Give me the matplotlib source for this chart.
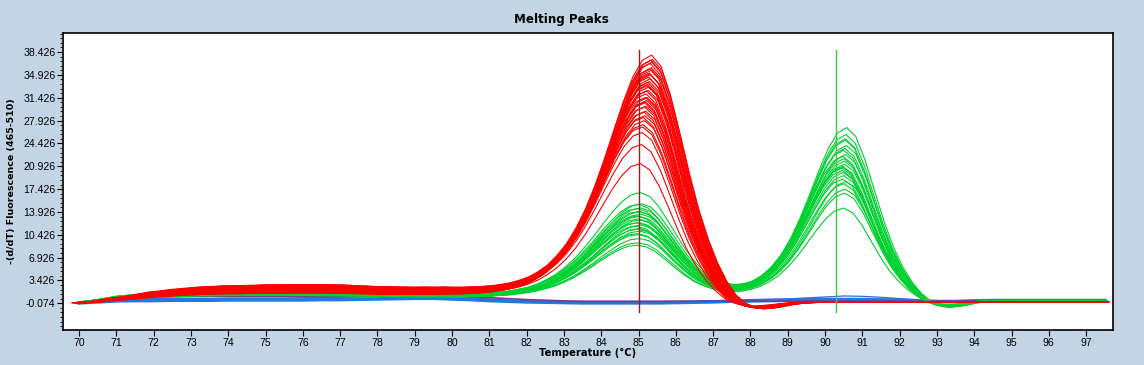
import numpy as np
import matplotlib
matplotlib.use("Agg")
import matplotlib.pyplot as plt
from matplotlib.ticker import FixedLocator, FormatStrFormatter

# ---------------- data ----------------
# common temperature grid (deg C), 0.25 step
temps = np.arange(70.0, 97.51, 0.25)

# red sample family: baseline and normalised peak shape (peak at 85.25)
red_base = [0.0, 0.1, 0.2, 0.4,
            0.6, 0.7, 0.9, 1.1,
            1.3, 1.4, 1.55, 1.65,
            1.75, 1.85, 1.9, 1.95,
            2.0, 2.0, 2.05, 2.05,
            2.1, 2.1, 2.1, 2.15,
            2.15, 2.15, 2.15, 2.1,
            2.1, 2.05, 2.0, 1.95,
            1.9, 1.9, 1.85, 1.85,
            1.8, 1.8, 1.75, 1.75,
            1.7, 1.65, 1.6, 1.55,
            1.5, 1.45, 1.4, 1.35,
            1.3, 1.25, 1.2, 1.15,
            1.1, 1.05, 1.0, 0.95,
            0.9, 0.85, 0.8, 0.75,
            0.7, 0.62, 0.55, 0.48,
            0.4, 0.35, 0.3, 0.25,
            0.2, 0.17, 0.15, 0.12] + [0.1] * 8 + [0.15] * 31

red_peak = [0.0] * 36 + [
    0.001, 0.002, 0.003, 0.004,
    0.005, 0.007, 0.010, 0.014,
    0.019, 0.026, 0.035, 0.048,
    0.064, 0.088, 0.118, 0.160,
    0.211, 0.277, 0.358, 0.456,
    0.568, 0.689, 0.806, 0.907,
    0.976, 1.000, 0.957, 0.842,
    0.689, 0.526, 0.379, 0.259,
    0.161, 0.085, 0.028, -0.005,
    -0.022, -0.027, -0.024, -0.018,
    -0.010, -0.005, -0.002, 0.0] + [0.0] * 31

red_heights = [37.2, 36.8, 36.5, 36.3, 35.9, 35.6, 35.2, 34.9, 34.7, 34.3,
               34.0, 33.6, 33.3, 33.1, 32.7, 32.4, 32.0, 31.8, 31.4, 31.0,
               30.7, 30.4, 30.0, 29.6, 29.3, 28.9, 28.4, 28.1, 27.7, 27.3,
               26.8, 26.2, 25.5, 23.6, 20.8, 34.4, 32.9, 30.2]
red_shifts = [0.10, 0.12, 0.08, 0.11, 0.06, 0.09, 0.05, 0.10, 0.03, 0.07,
              0.02, 0.06, 0.00, 0.04, -0.02, 0.03, -0.04, 0.01, -0.05, -0.02,
              -0.06, -0.03, -0.08, -0.05, -0.09, -0.06, -0.10, -0.08, -0.12, -0.09,
              -0.13, -0.14, -0.15, -0.17, -0.20, 0.05, -0.01, -0.07]
red_base_scale = [1.2, 0.8, 1.1, 0.9, 1.3, 0.7, 1.0, 1.25, 0.85, 1.05,
                  0.95, 1.15, 0.75, 1.3, 0.9, 1.1, 0.8, 1.2, 1.0, 0.7,
                  1.25, 0.95, 1.05, 0.85, 1.15, 0.75, 1.3, 0.9, 1.1, 1.0,
                  0.8, 1.2, 0.95, 1.05, 0.85, 1.1, 0.9, 1.0]

# green sample family: baseline and two normalised peaks (85.0 and 90.5)
green_base = [0.1, 0.25, 0.4, 0.6,
              0.8, 0.9, 1.0, 1.1,
              1.2, 1.3, 1.35, 1.4,
              1.45, 1.5, 1.5, 1.55,
              1.55, 1.6, 1.6, 1.6,
              1.6, 1.6, 1.6, 1.6,
              1.6, 1.55, 1.55, 1.5,
              1.5, 1.45, 1.45, 1.4,
              1.4, 1.35, 1.3, 1.3,
              1.25, 1.2, 1.15, 1.1,
              1.05, 1.0, 1.0, 0.95,
              0.9, 0.85, 0.8, 0.8,
              0.75, 0.7, 0.7, 0.65,
              0.65, 0.6, 0.6, 0.55,
              0.55, 0.5, 0.5, 0.5,
              0.45, 0.45, 0.45, 0.4,
              0.4, 0.4, 0.35, 0.35,
              0.3, 0.3, 0.3, 0.3,
              0.3, 0.3, 0.3, 0.3,
              0.3, 0.3, 0.3, 0.3,
              0.3, 0.3, 0.3, 0.3,
              0.3, 0.3, 0.3, 0.25,
              0.25, 0.25, 0.2, 0.2] + [0.2] * 4 + [0.3] * 15

green_peak1 = [0.0] * 32 + [
    0.0, 0.0005, 0.001, 0.0018,
    0.0025, 0.0035, 0.005, 0.007,
    0.009, 0.013, 0.017, 0.023,
    0.031, 0.042, 0.056, 0.075,
    0.100, 0.133, 0.177, 0.231,
    0.299, 0.382, 0.480, 0.590,
    0.706, 0.819, 0.913, 0.977,
    1.000,
    0.964, 0.865, 0.729, 0.582,
    0.445, 0.329, 0.238, 0.171,
    0.118, 0.082, 0.057, 0.039,
    0.027, 0.018, 0.0125, 0.0086,
    0.006, 0.004, 0.0028, 0.002,
    0.0013, 0.0009, 0.0006, 0.0] + [0.0] * 26

green_peak2 = [0.0] * 58 + [
    0.0005, 0.0008, 0.0012, 0.0017,
    0.0025, 0.0037, 0.0054, 0.0078,
    0.011, 0.016, 0.023, 0.033,
    0.0475, 0.0678, 0.0964, 0.137,
    0.192, 0.263, 0.358, 0.474,
    0.608, 0.748, 0.876, 0.967,
    1.000,
    0.947, 0.810, 0.634, 0.461,
    0.315, 0.201, 0.1135, 0.049,
    0.003, -0.023, -0.032, -0.027,
    -0.0185, -0.009, -0.003, -0.0006,
    0.0] + [0.0] * 11

green_h1 = [16.4, 14.8, 14.5, 14.1, 13.9, 13.6, 13.4, 13.1, 12.9, 12.7, 12.4, 12.2,
            11.9, 11.7, 11.5, 11.2, 11.0, 10.7, 10.5, 10.2, 9.9, 9.4, 8.7, 8.4]
green_h2 = [24.6, 26.6, 23.0, 25.5, 22.1, 24.9, 21.3, 23.8, 20.0, 23.3, 19.2, 22.4,
            20.7, 21.7, 18.3, 20.3, 21.0, 19.6, 17.1, 18.7, 17.9, 16.5, 14.2, 20.5]
green_shifts = [0.05, 0.08, 0.00, 0.06, -0.02, 0.04, 0.02, 0.07, -0.04, 0.03, 0.00, 0.05,
                -0.03, 0.01, 0.06, -0.05, 0.02, -0.01, 0.04, -0.03, 0.00, 0.03, 0.00, -0.02]
green_base_scale = [1.0, 0.8, 1.2, 0.9, 1.1, 0.7, 1.3, 1.0, 0.85, 1.15, 0.95, 1.05,
                    0.75, 1.25, 0.9, 1.1, 0.8, 1.2, 1.0, 0.85, 1.15, 0.95, 1.05, 0.9]

# negative controls (0.5 deg grid)
ctrl_temps = np.arange(70.0, 97.51, 0.5)
blue_main = [0.0, 0.15, 0.3, 0.35, 0.35, 0.4, 0.4, 0.4, 0.45, 0.45,
             0.45, 0.45, 0.45, 0.5, 0.5, 0.55, 0.6, 0.65, 0.7, 0.7,
             0.6, 0.5, 0.35, 0.25, 0.15, 0.1, 0.05, 0.0, 0.0, 0.0,
             0.0, 0.0, 0.05, 0.1, 0.15, 0.25, 0.3, 0.35, 0.4, 0.45,
             0.5, 0.5, 0.5, 0.45, 0.4, 0.3, 0.2, 0.2, 0.3, 0.35,
             0.35, 0.35, 0.35, 0.35, 0.35, 0.35]
blue_upper = [0.1, 0.3, 0.5, 0.6, 0.65, 0.7, 0.7, 0.7, 0.75, 0.75,
              0.75, 0.75, 0.8, 0.8, 0.85, 0.9, 1.0, 1.1, 1.15, 1.1,
              1.0, 0.8, 0.6, 0.4, 0.25, 0.15, 0.1, 0.05, 0.05, 0.05,
              0.05, 0.1, 0.15, 0.2, 0.3, 0.4, 0.5, 0.55, 0.6, 0.75,
              0.9, 1.05, 1.0, 0.85, 0.65, 0.45, 0.3, 0.25, 0.3, 0.35,
              0.35, 0.35, 0.35, 0.35, 0.35, 0.35]
purple = [-0.1, 0.2, 0.5, 0.7, 0.85, 0.95, 1.0] + [1.0] * 13 + \
         [0.95, 0.9, 0.8, 0.65, 0.5, 0.4, 0.3, 0.25] + [0.25] * 20 + [0.3] + [0.3] * 7

# Tm marker positions
tm_markers = [85.0, 90.3]
tm_colors = ["#A01818", "#3CC83C"]

x_ticks = list(range(70, 98))
y_ticks = [-0.074 + 3.5 * k for k in range(12)]

# ---------------- plot ----------------
BG = "#C3D4E4"
fig = plt.figure(figsize=(11.44, 3.65), dpi=100, facecolor=BG)
ax = fig.add_axes([63 / 1144, 1 - 330 / 365, (1113 - 63) / 1144, (330 - 33) / 365])
ax.set_facecolor("white")

lw = 0.8
ax.plot(ctrl_temps, blue_main, color="#1E7BE6", lw=2.6, zorder=2)
ax.plot(ctrl_temps, blue_upper, color="#2A6FD8", lw=0.9, zorder=2)
ax.plot(ctrl_temps, purple, color="#7A3A8E", lw=1.2, zorder=2)

gb = np.array(green_base)
g1 = np.array(green_peak1)
g2 = np.array(green_peak2)
for h1, h2, s, bs in zip(green_h1, green_h2, green_shifts, green_base_scale):
    ax.plot(temps + s, bs * gb + h1 * g1 + h2 * g2, color="#00D030", lw=lw, zorder=3)

rb = np.array(red_base)
rp = np.array(red_peak)
for h, s, bs in zip(red_heights, red_shifts, red_base_scale):
    ax.plot(temps + s, bs * rb + h * rp, color="#FF0000", lw=lw, zorder=4)

for t, c in zip(tm_markers, tm_colors):
    ax.plot([t, t], [-1.41, 38.73], color=c, lw=1.0, zorder=5)

ax.set_xlim(69.57, 97.72)
ax.set_ylim(-4.16, 41.34)
ax.xaxis.set_major_locator(FixedLocator(x_ticks))
ax.yaxis.set_major_locator(FixedLocator(y_ticks))
ax.yaxis.set_major_formatter(FormatStrFormatter("%.3f"))
ax.yaxis.set_minor_locator(FixedLocator([-0.074 + 0.7 * k for k in range(-5, 60)]))
ax.tick_params(axis="both", which="major", direction="out", length=4, width=0.8,
               labelsize=7.6, pad=1.5, colors="black")
ax.tick_params(axis="y", which="minor", direction="out", length=2.5, width=0.6)
for lab in ax.get_xticklabels() + ax.get_yticklabels():
    lab.set_family("Liberation Sans")
for sp in ax.spines.values():
    sp.set_linewidth(1.2)
    sp.set_color("black")

ax.set_xlabel("Temperature (°C)", fontsize=7.2, fontweight="bold", family="DejaVu Sans", labelpad=0.5)
ax.set_ylabel("-(d/dT) Fluorescence (465-510)", fontsize=6.8, fontweight="bold", family="DejaVu Sans", labelpad=5)
fig.text(561 / 1144, 1 - 19 / 365, "Melting Peaks", ha="center", va="center",
         fontsize=8.6, fontweight="bold", family="DejaVu Sans")

fig.savefig("out.png", dpi=100, facecolor=BG)
